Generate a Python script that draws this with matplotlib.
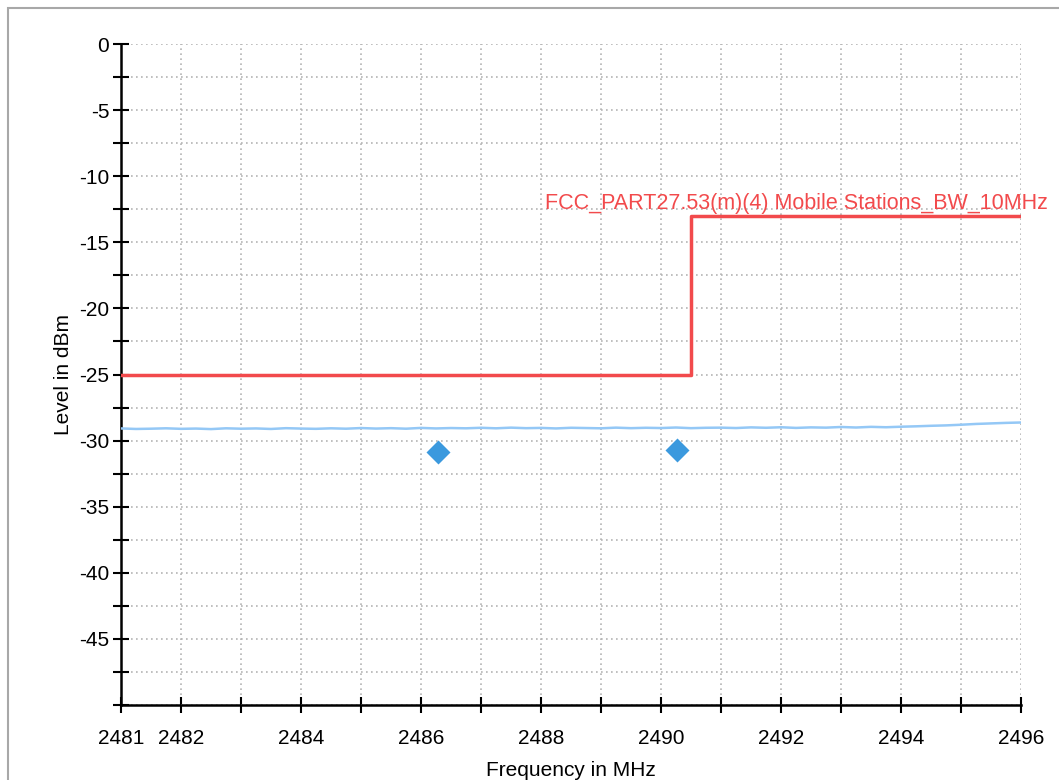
import matplotlib
matplotlib.use('Agg')
import matplotlib.pyplot as plt
from matplotlib.patches import Rectangle
from matplotlib.ticker import MultipleLocator, FuncFormatter

plt.rcParams['font.family'] = ['Liberation Sans', 'DejaVu Sans']

# limit line (FCC part 27.53(m)(4))
limit_freq = [2481.0, 2490.5, 2490.5, 2496.0]
limit_level = [-25.0, -25.0, -13.0, -13.0]
limit_name = 'FCC_PART27.53(m)(4) Mobile Stations_BW_10MHz'

# measured trace, read every 0.25 MHz
trace_freq = [2481.00, 2481.25, 2481.50, 2481.75, 2482.00, 2482.25, 2482.50, 2482.75,
              2483.00, 2483.25, 2483.50, 2483.75, 2484.00, 2484.25, 2484.50, 2484.75,
              2485.00, 2485.25, 2485.50, 2485.75, 2486.00, 2486.25, 2486.50, 2486.75,
              2487.00, 2487.25, 2487.50, 2487.75, 2488.00, 2488.25, 2488.50, 2488.75,
              2489.00, 2489.25, 2489.50, 2489.75, 2490.00, 2490.25, 2490.50, 2490.75,
              2491.00, 2491.25, 2491.50, 2491.75, 2492.00, 2492.25, 2492.50, 2492.75,
              2493.00, 2493.25, 2493.50, 2493.75, 2494.00, 2494.25, 2494.50, 2494.75,
              2495.00, 2495.25, 2495.50, 2495.75, 2496.00]
trace_level = [-29.08, -29.12, -29.10, -29.07, -29.11, -29.09, -29.13, -29.07,
               -29.10, -29.08, -29.12, -29.06, -29.09, -29.11, -29.07, -29.10,
               -29.05, -29.09, -29.06, -29.10, -29.04, -29.08, -29.05, -29.07,
               -29.03, -29.07, -29.02, -29.06, -29.04, -29.08, -29.03, -29.05,
               -29.07, -29.02, -29.06, -29.03, -29.05, -29.01, -29.06, -29.03,
               -29.02, -29.05, -29.00, -29.03, -28.99, -29.04, -29.00, -29.02,
               -28.97, -29.01, -28.96, -28.99, -28.95, -28.92, -28.88, -28.85,
               -28.80, -28.74, -28.70, -28.66, -28.63]

# peak markers
peak_freq = [2486.28, 2490.27]
peak_level = [-30.85, -30.70]

x_ticks = list(range(2481, 2497))
x_labels = ['2481', '2482', '', '2484', '', '2486', '', '2488', '', '2490', '',
            '2492', '', '2494', '', '2496']

fig = plt.figure(figsize=(10.59, 7.80), dpi=100)
ax = fig.add_axes([121/1059, 75/780, 900/1059, 661/780])

ax.plot(trace_freq, trace_level, color='#94c8f6', lw=1.8, zorder=3)
ax.plot(limit_freq, limit_level, color='#f24a4c', lw=2.5, zorder=4)
ax.plot(peak_freq, peak_level, 'D', color='#3b99de', ms=12, mec='none', zorder=5)
ax.text(2488.07, -12.85, limit_name, color='#f24a4c', fontsize=15.5,
        ha='left', va='bottom', clip_on=False, zorder=6)

ax.set_xlim(2481, 2496)
ax.set_ylim(-50, 0)
ax.set_xticks(x_ticks)
ax.set_xticklabels(x_labels)
ax.yaxis.set_major_locator(MultipleLocator(2.5))
ax.yaxis.set_major_formatter(FuncFormatter(
    lambda v, p: '%d' % v if abs(v % 5) < 1e-6 and v > -50 else ''))

ax.grid(True, color='#b4b4b4', linestyle=(0, (1, 2)), lw=1.2)
for s in ['top', 'right']:
    ax.spines[s].set_visible(False)
for s in ['left', 'bottom']:
    ax.spines[s].set_linewidth(1.8)
ax.tick_params(direction='inout', length=11, width=1.5, labelsize=15)
ax.tick_params(axis='x', pad=12)
ax.tick_params(axis='y', pad=3)

ax.set_xlabel('Frequency in MHz', fontsize=15, labelpad=9)
ax.set_ylabel('Level in dBm', fontsize=15, labelpad=4)

fig.patches.append(Rectangle((8/1059, -0.1), 1.2, 772/780 + 0.1,
                             transform=fig.transFigure, fill=False,
                             edgecolor='#a8a8a8', lw=1.5))

fig.savefig('out.png', dpi=100)
